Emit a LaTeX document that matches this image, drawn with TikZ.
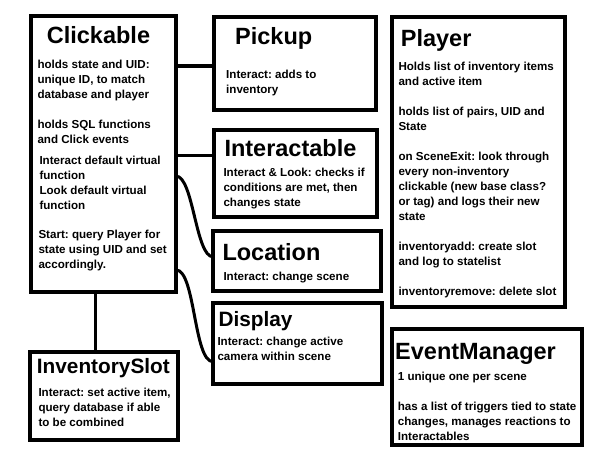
\documentclass[tikz,border=0pt]{standalone}
\usepackage{fontspec}
\setmainfont{Liberation Sans}
\usetikzlibrary{calc}
\frenchspacing
\tikzset{
  box/.style={draw=black, line width=3.5pt, anchor=north west, inner sep=0pt, outer sep=0pt},
  ttl/.style={anchor=base west, inner sep=0pt, font=\fontsize{23.5}{28}\selectfont\bfseries},
  ttlsmall/.style={anchor=base west, inner sep=0pt, font=\fontsize{20.8}{25}\selectfont\bfseries},
  txt/.style={anchor=base west, inner sep=0pt, align=left, font=\fontsize{11.6}{15}\selectfont\bfseries\frenchspacing},
  link/.style={draw=black, line width=3.5pt},
  curvelink/.style={draw=black, line width=3pt, out=0, in=180, looseness=0.5},
}
\begin{document}
\begin{tikzpicture}[x=1pt, y=-1pt]
\useasboundingbox[fill=white] (0,0) rectangle (608,455);
% boxes
\node[box, minimum width=145pt, minimum height=276pt] (click) at (31,16) {};
\node[box, minimum width=162pt, minimum height=93pt] (pick) at (214,17) {};
\node[box, minimum width=163pt, minimum height=87pt] (inter) at (214,130) {};
\node[box, minimum width=168pt, minimum height=60pt] (loc) at (213,231) {};
\node[box, minimum width=169pt, minimum height=81pt] (disp) at (213,303) {};
\node[box, minimum width=148pt, minimum height=88pt] (slot) at (30,352) {};
\node[box, minimum width=173pt, minimum height=290pt] (player) at (392,17) {};
\node[box, minimum width=190pt, minimum height=116pt] (event) at (392,329) {};
% Clickable text (base anchor = baseline of last line)
\node[ttl] (clickT) at (46.7,43.3) {Clickable};
\node[txt] (clickA) at (37.3,98.3) {holds state and UID:\\unique ID, to match\\database and player};
\node[txt] (clickB) at (37.3,143) {holds SQL functions\\and Click events};
\node[txt] (clickC) at (39.3,209) {Interact default virtual\\function\\Look default virtual\\function};
\node[txt] (clickD) at (38.3,268) {Start: query Player for\\state using UID and set\\accordingly.};
% Pickup
\node[ttl] (pickT) at (235,44.3) {Pickup};
\node[txt] (pickA) at (226,93.3) {Interact: adds to\\inventory};
% Interactable
\node[ttl] (interT) at (224.3,156) {Interactable};
\node[txt] (interA) at (223.3,206.7) {Interact \& Look: checks if\\conditions are met, then\\changes state};
% Location
\node[ttl] (locT) at (222.3,260.7) {Location};
\node[txt] (locA) at (223.3,280.7) {Interact: change scene};
% Display
\node[ttlsmall] (dispT) at (218.3,326.7) {Display};
\node[txt] (dispA) at (217.3,360) {Interact: change active\\camera within scene};
% InventorySlot
\node[ttlsmall] (slotT) at (36.7,373.3) {InventorySlot};
\node[txt] (slotA) at (38.3,426.7) {Interact: set active item,\\query database if able\\to be combined};
% Player
\node[ttl] (playerT) at (400.7,46.7) {Player};
\node[txt] (playerA) at (398.3,85.7) {Holds list of inventory items\\and active item};
\node[txt] (playerB) at (398.3,130.7) {holds list of pairs, UID and\\State};
\node[txt] (playerC) at (398.3,220.7) {on SceneExit: look through\\every non-inventory\\clickable (new base class?\\or tag) and logs their new\\state};
\node[txt] (playerD) at (398.3,265.7) {inventoryadd: create slot\\and log to statelist};
\node[txt] (playerE) at (398.3,295.7) {inventoryremove: delete slot};
% EventManager
\node[ttl] (eventT) at (395,359.3) {EventManager};
\node[txt] (eventA) at (397.7,380) {1 unique one per scene};
\node[txt] (eventB) at (397.7,440) {has a list of triggers tied to state\\changes, manages reactions to\\Interactables};
% connectors
\coordinate (pickIn) at ($(pick.north west)!0.527!(pick.south west)$);
\coordinate (interIn) at ($(inter.north west)!0.295!(inter.south west)$);
\coordinate (locOut) at ($(click.north east)!0.58!(click.south east)$);
\coordinate (locIn) at ($(loc.north west)!0.43!(loc.south west)$);
\coordinate (dispOut) at ($(click.north east)!0.92!(click.south east)$);
\coordinate (dispIn) at ($(disp.north west)!0.725!(disp.south west)$);
\coordinate (slotOut) at ($(click.south west)!0.446!(click.south east)$);
\draw[link] (click.east |- pickIn) -- (pickIn);
\draw[link] (click.east |- interIn) -- (interIn);
\draw[curvelink] (locOut) to (locIn);
\draw[curvelink] (dispOut) to (dispIn);
\draw[link] (slotOut) -- (slotOut |- slot.north);
\end{tikzpicture}
\end{document}
